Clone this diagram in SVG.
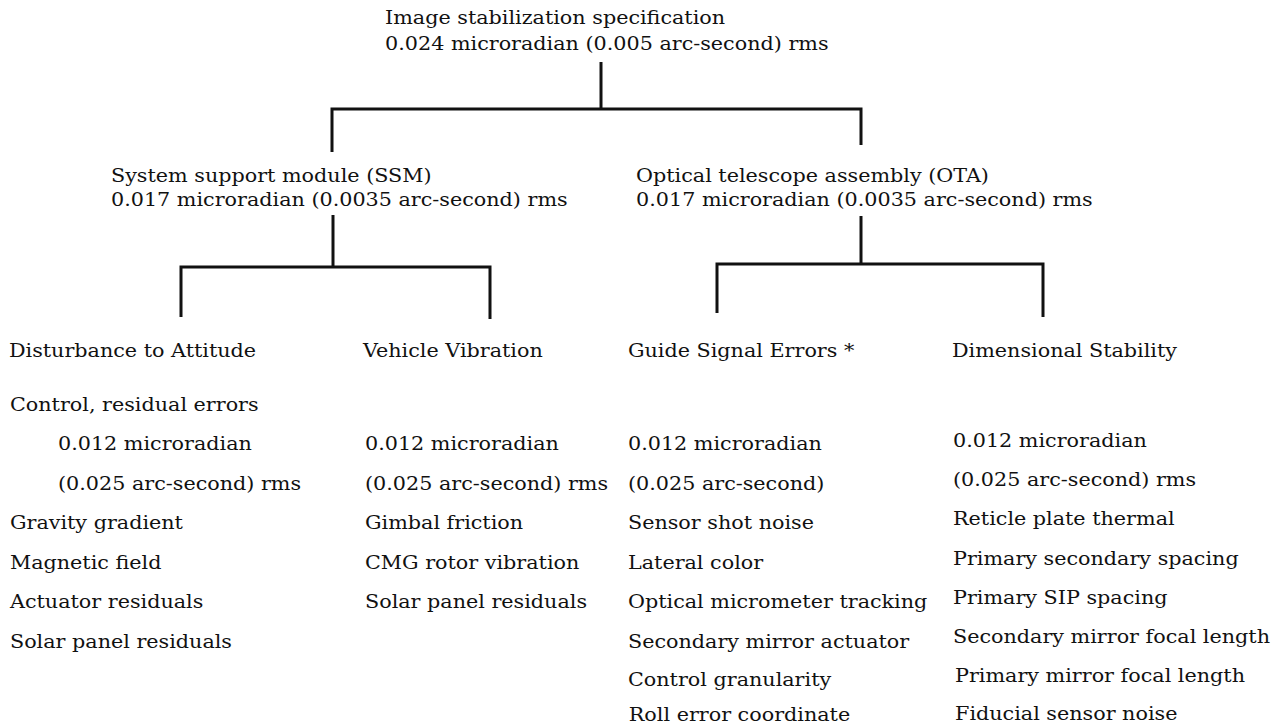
<svg xmlns="http://www.w3.org/2000/svg" width="1284" height="726" viewBox="0 0 1284 726">
  <style>
    text { font-family: "DejaVu Serif", "Liberation Serif", serif; font-size: 18.5px; fill: #111; }
    .wire { fill: none; stroke: #111; stroke-width: 3; stroke-linejoin: miter; stroke-linecap: butt; }
  </style>
  <rect width="1284" height="726" fill="#fff"/>

  <!-- tree connectors -->
  <g id="connectors">
    <path class="wire" d="M601,62 V109"/>
    <path class="wire" d="M332,152 V109 H861 V145"/>
    <path class="wire" d="M333,215 V267"/>
    <path class="wire" d="M181,317 V267 H490 V319"/>
    <path class="wire" d="M861,216 V264"/>
    <path class="wire" d="M717,313 V264 H1043 V317"/>
  </g>

  <!-- all labels share a slight horizontal stretch; x values are in stretched units -->
  <g transform="scale(1.12 1)">
    <g id="root">
      <text x="343.8" y="24">Image stabilization specification</text>
      <text x="343.8" y="50">0.024 microradian (0.005 arc-second) rms</text>
    </g>
    <g id="ssm">
      <text x="99.1" y="182">System support module (SSM)</text>
      <text x="99.1" y="206">0.017 microradian (0.0035 arc-second) rms</text>
    </g>
    <g id="ota">
      <text x="567.9" y="182">Optical telescope assembly (OTA)</text>
      <text x="567.9" y="206">0.017 microradian (0.0035 arc-second) rms</text>
    </g>

    <g id="attitude">
      <text x="8" y="357">Disturbance to Attitude</text>
      <text x="8.9" y="411">Control, residual errors</text>
      <text x="51.8" y="450">0.012 microradian</text>
      <text x="51.8" y="490">(0.025 arc-second) rms</text>
      <text x="8.9" y="529">Gravity gradient</text>
      <text x="8.9" y="569">Magnetic field</text>
      <text x="8.9" y="608">Actuator residuals</text>
      <text x="8.9" y="648">Solar panel residuals</text>
    </g>

    <g id="vibration">
      <text x="324.1" y="357">Vehicle Vibration</text>
      <text x="325.9" y="450">0.012 microradian</text>
      <text x="325.9" y="490">(0.025 arc-second) rms</text>
      <text x="325.9" y="529">Gimbal friction</text>
      <text x="325.9" y="569">CMG rotor vibration</text>
      <text x="325.9" y="608">Solar panel residuals</text>
    </g>

    <g id="guide">
      <text x="560.7" y="357">Guide Signal Errors *</text>
      <text x="560.7" y="450">0.012 microradian</text>
      <text x="560.7" y="490">(0.025 arc-second)</text>
      <text x="560.7" y="529">Sensor shot noise</text>
      <text x="560.7" y="569">Lateral color</text>
      <text x="560.7" y="608">Optical micrometer tracking</text>
      <text x="560.7" y="648">Secondary mirror actuator</text>
      <text x="560.7" y="686">Control granularity</text>
      <text x="561.4" y="721">Roll error coordinate</text>
    </g>

    <g id="dimensional">
      <text x="850" y="357">Dimensional Stability</text>
      <text x="850.9" y="447">0.012 microradian</text>
      <text x="850.9" y="486">(0.025 arc-second) rms</text>
      <text x="850.9" y="525">Reticle plate thermal</text>
      <text x="850.9" y="565">Primary secondary spacing</text>
      <text x="850.9" y="604">Primary SIP spacing</text>
      <text x="850.9" y="643">Secondary mirror focal length</text>
      <text x="852.7" y="682">Primary mirror focal length</text>
      <text x="852.7" y="720">Fiducial sensor noise</text>
    </g>
  </g>
</svg>
